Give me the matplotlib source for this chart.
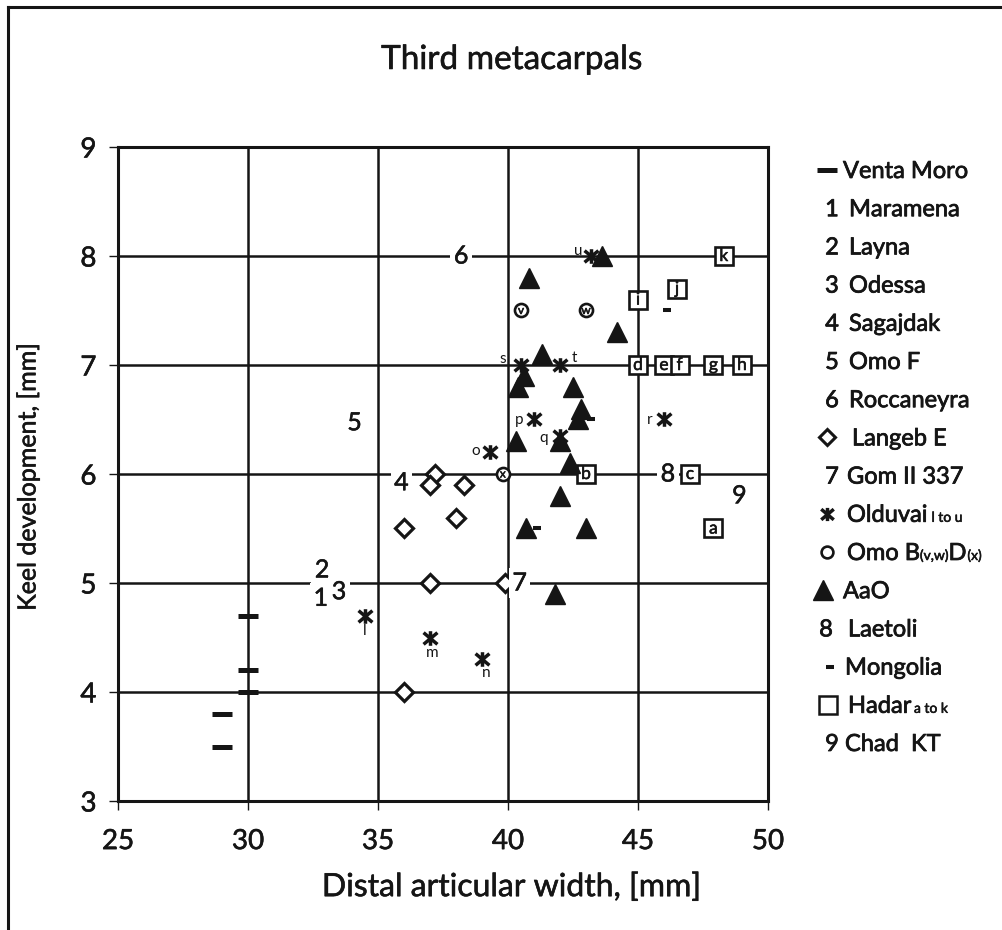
import matplotlib
matplotlib.use('Agg')
import matplotlib.pyplot as plt
import matplotlib.patheffects as pe
from matplotlib.path import Path
from matplotlib.lines import Line2D

plt.rcParams['font.family'] = ['Lato', 'DejaVu Sans']

# ---------------- data ----------------
venta_x = [30, 30, 30, 29, 29]
venta_y = [4.7, 4.2, 4.0, 3.8, 3.5]

olduvai_x = [34.5, 37.0, 39.0, 39.3, 41.0, 42.0, 46.0, 40.5, 42.0, 43.2]
olduvai_y = [4.7, 4.5, 4.3, 6.2, 6.5, 6.35, 6.5, 7.0, 7.0, 8.0]
olduvai_lab = ['l', 'm', 'n', 'o', 'p', 'q', 'r', 's', 't', 'u']

omo_x = [40.5, 43.0, 39.8]
omo_y = [7.5, 7.5, 6.0]
omo_lab = ['v', 'w', 'x']

aao_x = [43.6, 40.8, 44.2, 41.3, 40.6, 40.4, 42.5, 42.8, 42.7, 40.3, 42.0, 42.4, 42.0, 40.7, 43.0, 41.8]
aao_y = [8.0, 7.8, 7.3, 7.1, 6.9, 6.8, 6.8, 6.6, 6.5, 6.3, 6.3, 6.1, 5.8, 5.5, 5.5, 4.9]

langeb_x = [37.2, 37.0, 38.3, 38.0, 36.0, 37.0, 39.9, 36.0]
langeb_y = [6.0, 5.9, 5.9, 5.6, 5.5, 5.0, 5.0, 4.0]

mongolia_x = [46.1, 43.2, 41.1]
mongolia_y = [7.5, 6.5, 5.5]

hadar_x = [47.9, 43.0, 47.0, 45.0, 46.0, 46.6, 47.9, 49.0, 45.0, 46.5, 48.3]
hadar_y = [5.5, 6.0, 6.0, 7.0, 7.0, 7.0, 7.0, 7.0, 7.6, 7.7, 8.0]
hadar_lab = ['a', 'b', 'c', 'd', 'e', 'f', 'g', 'h', 'i', 'j', 'k']

site_num = ['1', '2', '3', '4', '5', '6', '7', '8', '9']
site_x = [32.8, 32.85, 33.5, 35.9, 34.1, 38.2, 40.45, 46.15, 48.9]
site_y = [4.86, 5.12, 4.92, 5.92, 6.47, 8.0, 5.0, 6.0, 5.8]

x_ticks = [25, 30, 35, 40, 45, 50]
y_ticks = [3, 4, 5, 6, 7, 8, 9]

legend_labels = ['Venta Moro', 'Maramena', 'Layna', 'Odessa', 'Sagajdak', 'Omo F',
                 'Roccaneyra', 'Langeb E', 'Gom II 337', 'Olduvai', 'Omo B', 'AaO',
                 'Laetoli', 'Mongolia', 'Hadar', 'Chad  KT']
legend_keys = ['dash', '1', '2', '3', '4', '5', '6', 'diamond', '7', 'ast', 'circle',
               'tri', '8', 'mdash', 'square', '9']

# olduvai label offsets (pixels)
old_off = [(0, -15), (2, -15), (4, -14), (-14, 1), (-15, 0), (-16, -2), (-14, 0),
           (-18, 6), (14, 7), (-13, 5)]

# ---------------- figure ----------------
W, H = 1002, 930
INK = '#151515'
BOLD = [pe.withStroke(linewidth=0.55, foreground=INK)]
BOLD_S = [pe.withStroke(linewidth=0.4, foreground=INK)]

fig = plt.figure(figsize=(W / 100, H / 100), dpi=100)
ax = fig.add_axes([118 / W, 1 - 801 / H, (768 - 118) / W, (801 - 147) / H])
ax.set_xlim(25, 50)
ax.set_ylim(3, 9)
ax.set_xticks(x_ticks)
ax.set_yticks(y_ticks)
ax.grid(True, color=INK, lw=1.8)
ax.set_axisbelow(True)
for s in ax.spines.values():
    s.set_linewidth(2.2)
    s.set_color(INK)
ax.tick_params(direction='out', length=6.5, width=1, labelsize=20, colors=INK)
ax.tick_params(axis='x', pad=13)
ax.tick_params(axis='y', pad=9)
for lbl in ax.get_xticklabels() + ax.get_yticklabels():
    lbl.set_path_effects(BOLD_S)

ast_path = Path([(0, -1), (0, 1), (-0.95, -0.8), (0.95, 0.8), (-0.95, 0.8), (0.95, -0.8)],
                [Path.MOVETO, Path.LINETO] * 3)

ax.plot(venta_x, venta_y, ls='none', marker='_', ms=15, mew=3.6, color=INK, zorder=4)
ax.plot(mongolia_x, mongolia_y, ls='none', marker='_', ms=5.8, mew=2.9, color=INK, zorder=4)
ax.plot(langeb_x, langeb_y, ls='none', marker='D', ms=8.8, mew=2.3, mfc='white',
        mec=INK, zorder=4)
ax.plot(olduvai_x, olduvai_y, ls='none', marker=ast_path, ms=10.5, mew=2.5, mec=INK,
        mfc='none', zorder=4)
ax.plot(aao_x, aao_y, ls='none', marker='^', ms=15, color=INK, zorder=5)
ax.plot(omo_x, omo_y, ls='none', marker='o', ms=9.4, mew=1.9, mfc='white', mec=INK, zorder=4)
ax.plot(hadar_x, hadar_y, ls='none', marker='s', ms=13.5, mew=1.9, mfc='white', mec=INK,
        zorder=4)

for x, y, l, (dx, dy) in zip(olduvai_x, olduvai_y, olduvai_lab, old_off):
    ax.annotate(l, (x, y), xytext=(dx, dy), textcoords='offset pixels', ha='center',
                va='center', fontsize=11, color=INK, zorder=6)
for x, y, l in zip(omo_x, omo_y, omo_lab):
    ax.text(x, y, l, ha='center', va='center', fontsize=8.5, color=INK, zorder=6,
            path_effects=BOLD_S)
for x, y, l in zip(hadar_x, hadar_y, hadar_lab):
    ax.text(x, y, l, ha='center', va='center', fontsize=12.5, color=INK, zorder=6,
            path_effects=BOLD_S)
for x, y, l in zip(site_x, site_y, site_num):
    ax.text(x, y, l, ha='center', va='center', fontsize=18, color=INK, zorder=7,
            bbox=dict(fc='white', ec='none', pad=2.5), path_effects=BOLD_S)

fig.text(512 / W, 1 - 60 / H, 'Third metacarpals', ha='center', va='center', fontsize=24,
         color=INK, path_effects=BOLD_S)
fig.text(512 / W, 1 - 887 / H, 'Distal articular width, [mm]', ha='center', va='center',
         fontsize=23, color=INK, path_effects=BOLD_S)
fig.text(28 / W, 1 - 477 / H, 'Keel development, [mm]', ha='center', va='center',
         rotation=90, fontsize=18, color=INK, path_effects=BOLD_S)

# ---------------- legend & frame (pixel overlay) ----------------
lax = fig.add_axes([0, 0, 1, 1])
lax.set_xlim(0, W)
lax.set_ylim(H, 0)
lax.axis('off')
lax.add_line(Line2D([8, W], [7, 7], color=INK, lw=2.2))
lax.add_line(Line2D([8, 8], [7, H], color=INK, lw=2.2))

renderer = fig.canvas.get_renderer()
fs = 17
row_y = [170 + 38.2 * i for i in range(len(legend_labels))]
for key, lab, y in zip(legend_keys, legend_labels, row_y):
    tx = 847
    if key == 'dash':
        lax.plot([827], [y], marker='_', ms=15, mew=3.6, color=INK)
        tx = 843
    elif key == 'mdash':
        lax.plot([830], [y], marker='_', ms=5.8, mew=2.9, color=INK)
        tx = 845
    elif key == 'diamond':
        lax.plot([827], [y], marker='D', ms=8.5, mew=2.2, mfc='white', mec=INK)
        tx = 852
    elif key == 'ast':
        lax.plot([827], [y], marker=ast_path, ms=9.5, mew=2.5, mec=INK, mfc='none')
        tx = 847
    elif key == 'circle':
        lax.plot([827], [y], marker='o', ms=8.5, mew=1.9, mfc='white', mec=INK)
        tx = 847
    elif key == 'tri':
        lax.plot([823], [y], marker='^', ms=14, color=INK)
        tx = 843
    elif key == 'square':
        lax.plot([828], [y], marker='s', ms=13, mew=1.8, mfc='white', mec=INK)
        tx = 848
    else:
        cx = {'7': 832, '8': 826}.get(key, 832)
        lax.text(cx, y + 8, key, ha='center', va='baseline', fontsize=fs, color=INK,
                 path_effects=BOLD)
        tx = {'7': 847, '8': 848, '9': 845}.get(key, 849)
    t = lax.text(tx, y + 8, lab, ha='left', va='baseline', fontsize=fs, color=INK,
                 path_effects=BOLD)
    if key in ('ast', 'circle', 'square'):
        bb = t.get_window_extent(renderer)
        x1 = bb.x1
        if key == 'ast':
            lax.text(x1 + 4, y + 8, 'l to u', ha='left', va='baseline', fontsize=10,
                     color=INK, path_effects=BOLD_S)
        elif key == 'square':
            lax.text(x1 + 3, y + 8, 'a to k', ha='left', va='baseline', fontsize=10,
                     color=INK, path_effects=BOLD_S)
        else:
            t2 = lax.text(x1, y + 8, '(v,w)', ha='left', va='baseline', fontsize=10,
                          color=INK, path_effects=BOLD_S)
            b2 = t2.get_window_extent(renderer)
            t3 = lax.text(b2.x1, y + 8, 'D', ha='left', va='baseline', fontsize=fs,
                          color=INK, path_effects=BOLD)
            b3 = t3.get_window_extent(renderer)
            lax.text(b3.x1 + 1, y + 8, '(x)', ha='left', va='baseline', fontsize=10,
                     color=INK, path_effects=BOLD_S)

fig.savefig('out.png', dpi=100)
